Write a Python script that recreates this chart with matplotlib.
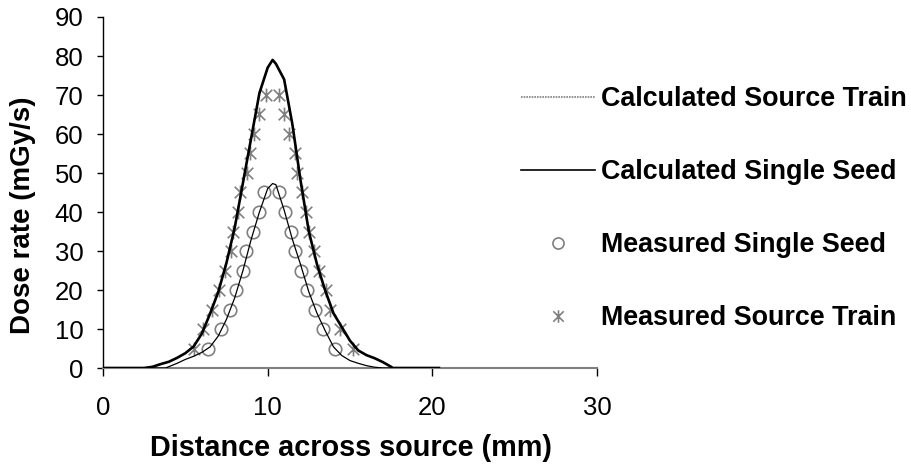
import matplotlib.pyplot as plt
from matplotlib.lines import Line2D
from matplotlib.path import Path

plt.rcParams['font.family'] = ['Liberation Sans', 'DejaVu Sans']

# Calculated profiles (mm, mGy/s)
x_calc_train = [0, 2.5, 3.0, 3.5, 4.0, 4.5, 5.0, 5.5, 6.0, 6.5, 7.0, 7.5, 8.0, 8.5,
                9.0, 9.5, 10.0, 10.3, 10.5, 11.0, 11.5, 12.0, 12.5, 13.0, 13.5, 14.0,
                14.5, 15.0, 15.5, 16.0, 16.5, 17.0, 17.5, 17.6, 20.4]
y_calc_train = [0, 0, 0.3, 1.0, 1.6, 2.6, 3.8, 5.5, 8.8, 13.9, 19.5, 27, 36, 47.5,
                59, 70.5, 77, 79, 78, 74, 62.5, 48, 35, 26.5, 19.8, 14,
                10.5, 7, 4.5, 3.3, 2.5, 1.5, 0.3, 0, 0]

x_calc_single = [0, 3.8, 4.5, 5.0, 5.5, 6.0, 6.5, 7.0, 7.5, 8.0, 8.5, 9.0, 9.5, 10.0,
                 10.3, 10.5, 11.0, 11.5, 12.0, 12.5, 13.0, 13.5, 14.0, 14.5, 15.0,
                 15.5, 16.0, 16.5, 17.0, 20.4]
y_calc_single = [0, 0, 1.2, 2.2, 3.0, 4.0, 5.4, 8.2, 12.5, 18, 25, 33, 40, 46,
                 47.3, 47, 40.5, 33, 26.5, 19.5, 14, 9.5, 5.4, 3.2, 1.9,
                 1.2, 0.6, 0.2, 0, 0]

# Measured points
x_meas_single = [6.4, 7.15, 7.7, 8.1, 8.5, 8.7, 9.1, 9.5, 9.8,
                 10.7, 11.05, 11.4, 11.65, 12.05, 12.4, 12.9, 13.35, 14.1]
y_meas_single = [5, 10, 15, 20, 25, 30, 35, 40, 45,
                 45, 40, 35, 30, 25, 20, 15, 10, 5]

x_meas_train = [5.5, 6.1, 6.6, 7.05, 7.4, 7.8, 7.9, 8.2, 8.35, 8.75, 8.9, 9.2, 9.5, 9.9,
                10.7, 11.0, 11.3, 11.65, 11.8, 12.1, 12.3, 12.5, 12.8, 13.1, 13.55, 13.8, 14.4, 15.2]
y_meas_train = [5, 10, 15, 20, 25, 30, 35, 40, 45, 50, 55, 60, 65, 70,
                70, 65, 60, 55, 50, 45, 40, 35, 30, 25, 20, 15, 10, 5]

labels = ['Calculated Source Train', 'Calculated Single Seed',
          'Measured Single Seed', 'Measured Source Train']

# star marker: X plus a vertical bar
star = Path([(-1, -1), (1, 1), (-1, 1), (1, -1), (0, -1.2), (0, 1.2)],
            [Path.MOVETO, Path.LINETO, Path.MOVETO, Path.LINETO, Path.MOVETO, Path.LINETO])

W, H = 912, 473
fig = plt.figure(figsize=(W / 100, H / 100), dpi=100)
ax = fig.add_axes([103 / W, 1 - 368 / H, 494 / W, 351 / H])

ax.plot(x_calc_train, y_calc_train, color='black', lw=1.9, zorder=3)
ax.plot(x_calc_single, y_calc_single, color='black', lw=0.9, zorder=3)
ax.plot(x_meas_single, y_meas_single, 'o', ms=9, mfc='none', mec='#808080', mew=1.2, zorder=2)
ax.plot(x_meas_train, y_meas_train, ls='none', marker=star, ms=10, mec='#808080',
        mfc='none', mew=1.2, zorder=2)

ax.set_xlim(0, 30)
ax.set_ylim(0, 90)
ax.set_xticks([0, 10, 20, 30])
ax.set_yticks(range(0, 91, 10))
ax.spines['top'].set_visible(False)
ax.spines['right'].set_visible(False)
ax.spines['bottom'].set_color('#808080')
ax.spines['bottom'].set_linewidth(1.5)
ax.spines['left'].set_linewidth(1.0)
ax.tick_params(axis='x', length=5.5, width=1, labelsize=18.5, pad=15)
ax.tick_params(axis='y', length=4, width=1, labelsize=18.5, pad=10)

fig.text(351 / W, 1 - 448 / H, 'Distance across source (mm)', ha='center', va='center',
         fontsize=20.8, fontweight='bold')
fig.text(23 / W, 1 - 215 / H, 'Dose rate (mGy/s)', ha='center', va='center',
         rotation=90, fontsize=20, fontweight='bold')

handles = [
    Line2D([], [], color='#808080', lw=1.2, ls=(0, (1, 0.6))),
    Line2D([], [], color='black', lw=1.2),
    Line2D([], [], ls='none', marker='o', ms=8, mfc='none', mec='#808080', mew=1.2),
    Line2D([], [], ls='none', marker=star, ms=9, mfc='none', mec='#808080', mew=1.2),
]
fig.legend(handles, labels, loc='upper left', bbox_to_anchor=(521 / W, 1 - 86 / H),
           frameon=False, borderpad=0, borderaxespad=0, handlelength=2.75,
           handletextpad=0.22, labelspacing=1.75, numpoints=1,
           prop={'size': 19.4, 'weight': 'bold'})

fig.savefig('out.png', dpi=100)
